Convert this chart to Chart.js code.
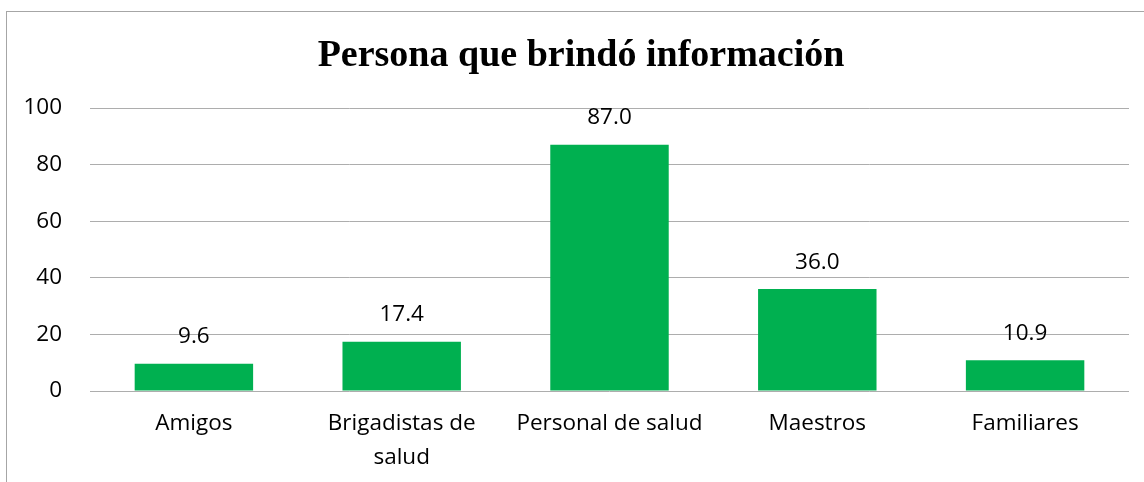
<!DOCTYPE html>
<html>
<head>
<meta charset="utf-8">
<script src="https://cdn.jsdelivr.net/npm/chart.js@4/dist/chart.umd.min.js"></script>
<style>
  html, body { margin: 0; padding: 0; background: #fff; overflow: hidden; }
  #frame { position: absolute; left: 6px; top: 11px; width: 1150px; height: 480px; border: 1px solid #a6a6a6; }
  #chart { position: absolute; left: 0; top: 0; }
</style>
</head>
<body>
<div id="frame"></div>
<canvas id="chart" width="1144" height="482"></canvas>
<script>
// Données
const categories = ['Amigos', ['Brigadistas de', 'salud'], 'Personal de salud', 'Maestros', 'Familiares'];
const valores = [9.6, 17.4, 87.0, 36.0, 10.9];
const titulo = 'Persona que brindó información';

const fontFamily = "'Open Sans', 'Noto Sans', sans-serif";
const fontSize = 22.5;

// Étiquettes de valeur au-dessus des barres
const valueLabels = {
  id: 'valueLabels',
  afterDatasetsDraw(chart) {
    const ctx = chart.ctx;
    const meta = chart.getDatasetMeta(0);
    ctx.save();
    ctx.font = fontSize + 'px ' + fontFamily;
    ctx.fillStyle = '#000';
    ctx.textAlign = 'center';
    ctx.textBaseline = 'middle';
    meta.data.forEach((bar, i) => {
      ctx.fillText(valores[i].toFixed(1), bar.x, bar.y - 27);
    });
    ctx.restore();
  }
};

// Titre centré sur le cadre (et non sur le canvas)
const frameTitle = {
  id: 'frameTitle',
  afterDraw(chart) {
    const ctx = chart.ctx;
    ctx.save();
    ctx.font = "bold 38px 'Liberation Serif', 'Times New Roman', serif";
    ctx.fillStyle = '#000';
    ctx.textAlign = 'center';
    ctx.textBaseline = 'middle';
    ctx.fillText(titulo, 581, 56);
    ctx.restore();
  }
};

new Chart(document.getElementById('chart'), {
  type: 'bar',
  data: {
    labels: categories,
    datasets: [{
      data: valores,
      backgroundColor: '#00b050',
      barPercentage: 0.57,
      categoryPercentage: 1
    }]
  },
  options: {
    responsive: false,
    animation: false,
    layout: { padding: { left: 0, right: 15, top: 108, bottom: 0 } },
    plugins: {
      legend: { display: false },
      tooltip: { enabled: false },
      title: { display: false }
    },
    scales: {
      x: {
        grid: { display: false, drawTicks: false },
        border: { display: false },
        ticks: {
          color: '#000',
          font: { family: fontFamily, size: fontSize, lineHeight: 1.51 },
          padding: 16,
          maxRotation: 0,
          autoSkip: false
        },
        afterFit(scale) { scale.height = 91; }
      },
      y: {
        min: 0,
        max: 100,
        grid: { color: '#adadad', lineWidth: 1, drawTicks: false },
        border: { display: false },
        ticks: {
          stepSize: 20,
          color: '#000',
          font: { family: fontFamily, size: fontSize },
          padding: 28
        },
        afterFit(scale) { scale.width = 90; }
      }
    }
  },
  plugins: [valueLabels, frameTitle]
});
</script>
</body>
</html>
